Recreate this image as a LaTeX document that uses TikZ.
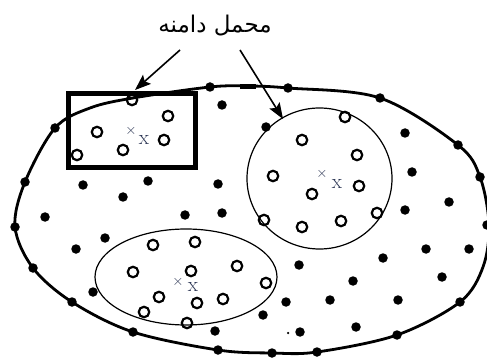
\documentclass[tikz,border=0pt]{standalone}
\usepackage{fontspec}
\newfontfamily\arabicfont[Script=Arabic]{DejaVu Sans}
\TeXXeTstate=1
\usetikzlibrary{arrows.meta}
\definecolor{xcol}{RGB}{45,55,85}
\begin{document}
\begin{tikzpicture}[x=1pt,y=-1pt,
  hole/.style={circle,draw=black,line width=2.2pt,minimum size=10.5pt,inner sep=0pt},
  dot/.style={circle,fill=black,minimum size=9.5pt,inner sep=0pt},
  region/.style={draw=black,line width=1.2pt},
  pointer/.style={line width=1.6pt,-{Stealth[length=16pt,width=12pt,inset=3pt]}},
  crossmark/.style={inner sep=0pt,text=xcol,font=\fontsize{15}{15}\selectfont},
  xmark/.style={inner sep=0pt,text=xcol,font=\fontsize{21}{21}\selectfont}]
\useasboundingbox (0,0) rectangle (487,358);
% outer boundary
\draw[line width=2.8pt] plot[smooth cycle,tension=0.55] coordinates {
 (15,227) (25,182) (55,128) (90,108) (133,98) (210,87) (248,86) (288,88) (380,98)
 (458,145) (480,177) (489,225) (483,267) (460,302) (397,335) (317,352) (272,353)
 (218,350) (133,332) (72,302) (33,268)};
\draw[line width=4.5pt] (240,86.5) -- (256,86.5);
% regions
\node[draw=black,line width=5pt,minimum width=127pt,minimum height=74pt,inner sep=0pt] (box) at (132,130.5) {};
\draw[region] (319.5,178.5) ellipse (72.5 and 70.5);
\node[inner sep=0pt] (circ) at (319.5,178.5) {};
\draw[region] (186,277) ellipse (91 and 48);
\node[inner sep=0pt] (ell) at (186,277) {};
% label and arrows
\node[inner sep=0pt,font=\fontsize{23}{26}\selectfont] (lbl) at (215,26) {\arabicfont\beginR محمل دامنه\endR};
\coordinate (a1s) at (180,50);
\coordinate (a1e) at (135,90);
\coordinate (a2s) at (240,50);
\coordinate (a2e) at (283,119);
\draw[pointer] (a1s) -- (a1e);
\draw[pointer] (a2s) -- (a2e);
% open circles
\foreach \p [count=\i] in {(132,100),(168,116),(97,132),(123,150),(164,140),(77,155),
  (345,117),(302,140),(357,155),(273,176),(312,194),(359,186),(264,220),(302,227),(341,221),(377,213),
  (153,245),(195,242),(133,272),(191,271),(237,266),(266,283),(159,297),(197,303),(223,299),(144,312),(187,323)}
  \node[hole] (h\i) at \p {};
% filled dots
\foreach \p [count=\i] in {(222,105),(405,133),(412,172),(83,185),(148,181),(218,184),(123,197),(45,217),
  (185,215),(222,213),(105,238),(76,249),(93,292),(449,202),(405,210),(426,249),(469,249),(383,258),
  (299,265),(353,281),(442,277),(286,302),(330,300),(398,300),(263,315),(215,331),(300,332),(356,327),
  (266,127),
  (55,128),(210,87),(288,88),(380,98),(458,145),(480,177),(25,182),(15,227),(33,268),(72,302),
  (133,332),(218,350),(272,353),(317,352),(397,335),(460,302),(487,225)}
  \node[dot] (d\i) at \p {};
\node[circle,fill=black,minimum size=2.5pt,inner sep=0pt] (tiny) at (288,333) {};
% centre marks
\node[crossmark] (c1) at (131,131) {$\times$};
\node[xmark] (x1) at (144,140) {x};
\node[crossmark] (c2) at (322,174) {$\times$};
\node[xmark] (x2) at (337,184) {x};
\node[crossmark] (c3) at (178,282) {$\times$};
\node[xmark] (x3) at (193,287) {x};
\end{tikzpicture}
\end{document}
